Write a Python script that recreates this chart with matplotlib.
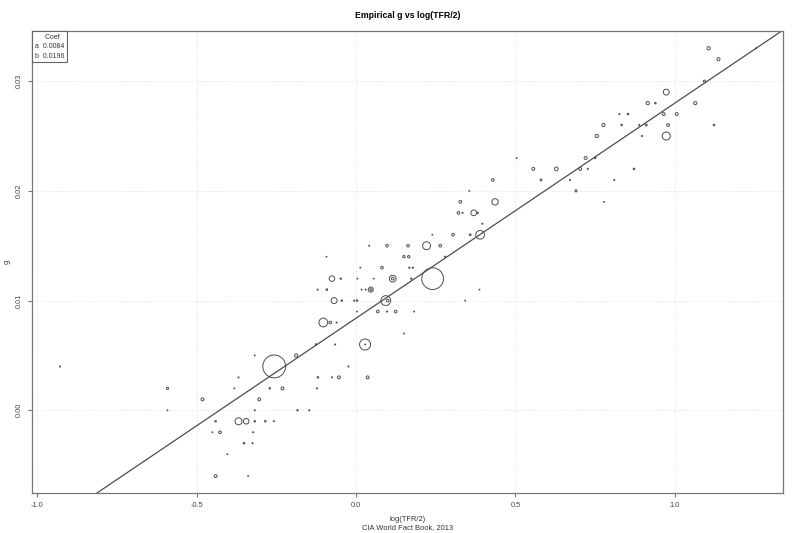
import numpy as np
import matplotlib
matplotlib.use("Agg")
import matplotlib.pyplot as plt

plt.rcParams['font.family'] = ['Liberation Sans', 'DejaVu Sans']

# fitted coefficients: g = a + b * log(TFR/2)
coef_a = 0.0084
coef_b = 0.0196

# log(TFR/2), g, population (millions)
log_tfr = [1.106, 1.255, 1.137, 1.093, 0.973,
           0.915, 0.939, 1.064,
           0.826, 0.853, 0.965, 1.006,
           0.776, 0.833, 0.888, 0.910, 0.979, 1.123,
           0.755, 0.897, 0.973,
           0.504, 0.720, 0.750,
           0.556, 0.628, 0.703, 0.727, 0.872,
           0.429, 0.580, 0.671, 0.810,
           0.355, 0.690,
           0.327, 0.436, 0.778,
           0.321, 0.334, 0.369, 0.381,
           0.396,
           0.239, 0.304, 0.358, 0.389,
           0.041, 0.097, 0.163, 0.221, 0.264,
           -0.093, 0.150, 0.165, 0.279,
           0.013, 0.081, 0.167, 0.178,
           -0.076, -0.048, 0.004, 0.055, 0.115, 0.115, 0.173, 0.240,
           -0.121, -0.092, 0.017, 0.030, 0.046, 0.046, 0.387,
           -0.069, -0.045, -0.006, 0.003, 0.093, 0.099, 0.342,
           0.003, 0.068, 0.097, 0.124, 0.182,
           -0.103, -0.081, -0.061,
           0.150,
           -0.126, -0.066, 0.028, 0.028,
           -0.318, -0.188,
           -0.929, -0.257, -0.024,
           -0.369, -0.120, -0.076, -0.054, 0.036,
           -0.592, -0.382, -0.271, -0.231, -0.123,
           -0.482, -0.304,
           -0.592, -0.318, -0.184, -0.147,
           -0.441, -0.369, -0.345, -0.318, -0.285, -0.258,
           -0.451, -0.427, -0.323,
           -0.352, -0.325,
           -0.404,
           -0.441, -0.339]

g = [0.033, 0.033, 0.032, 0.030, 0.029,
     0.028, 0.028, 0.028,
     0.027, 0.027, 0.027, 0.027,
     0.026, 0.026, 0.026, 0.026, 0.026, 0.026,
     0.025, 0.025, 0.025,
     0.023, 0.023, 0.023,
     0.022, 0.022, 0.022, 0.022, 0.022,
     0.021, 0.021, 0.021, 0.021,
     0.020, 0.020,
     0.019, 0.019, 0.019,
     0.018, 0.018, 0.018, 0.018,
     0.017,
     0.016, 0.016, 0.016, 0.016,
     0.015, 0.015, 0.015, 0.015, 0.015,
     0.014, 0.014, 0.014, 0.014,
     0.013, 0.013, 0.013, 0.013,
     0.012, 0.012, 0.012, 0.012, 0.012, 0.012, 0.012, 0.012,
     0.011, 0.011, 0.011, 0.011, 0.011, 0.011, 0.011,
     0.010, 0.010, 0.010, 0.010, 0.010, 0.010, 0.010,
     0.009, 0.009, 0.009, 0.009, 0.009,
     0.008, 0.008, 0.008,
     0.007,
     0.006, 0.006, 0.006, 0.006,
     0.005, 0.005,
     0.004, 0.004, 0.004,
     0.003, 0.003, 0.003, 0.003, 0.003,
     0.002, 0.002, 0.002, 0.002, 0.002,
     0.001, 0.001,
     0.000, 0.000, 0.000, 0.000,
     -0.001, -0.001, -0.001, -0.001, -0.001, -0.001,
     -0.002, -0.002, -0.002,
     -0.003, -0.003,
     -0.004,
     -0.006, -0.006]

pop = [28, 3, 25, 12, 90,
       28, 6, 25,
       3, 7, 22, 22,
       25, 6, 3, 10, 20, 7,
       25, 3, 170,
       2, 22, 5,
       22, 35, 22, 3, 7,
       18, 10, 3, 3,
       2, 12,
       20, 105, 2,
       18, 3, 85, 6,
       3,
       2, 18, 8, 195,
       2, 18, 18, 163, 18,
       2, 14, 14, 3,
       2, 18, 4, 4,
       79, 5, 2, 2, 118, 18, 5, 1220,
       3, 8, 2, 3, 65, 10, 2,
       92, 6, 3, 6, 250, 18, 2,
       2, 18, 3, 18, 2,
       200, 18, 3,
       2,
       6, 3, 316, 2,
       2, 28,
       3, 1350, 3,
       3, 7, 3, 22, 22,
       14, 2, 6, 22, 3,
       22, 22,
       2, 3, 5, 3,
       7, 127, 81, 6, 6, 3,
       2, 18, 3,
       7, 3,
       2,
       22, 2]

x_ticks = [-1.0, -0.5, 0.0, 0.5, 1.0]
y_ticks = [0.00, 0.01, 0.02, 0.03]

fig = plt.figure(figsize=(8, 5.33), dpi=100)
ax = fig.add_axes([0.04, 0.075, 0.939, 0.867])

gray = '#4d4d4d'
ax.scatter(log_tfr, g, s=np.array(pop) * 0.2, facecolors='none',
           edgecolors=gray, linewidths=0.7, zorder=3)
ax.axline((0, coef_a), slope=coef_b, color=gray, lw=0.9, zorder=2)

ax.set_xlim(-1.017, 1.340)
ax.set_ylim(-0.00754, 0.03458)
ax.set_xticks(x_ticks)
ax.set_xticklabels(['-1.0', '-0.5', '0.0', '0.5', '1.0'])
ax.set_yticks(y_ticks)
ax.set_yticklabels(['0.00', '0.01', '0.02', '0.03'], rotation=90, va='center')
ax.grid(True, color='#e0e0e0', linestyle=':', linewidth=0.7)
ax.set_axisbelow(True)

for sp in ax.spines.values():
    sp.set_color('#777777')
    sp.set_linewidth(0.9)
ax.tick_params(colors='#777777', labelcolor='#444444', labelsize=5.3,
               length=3, width=0.8, pad=3.5)

ax.set_title('Empirical g vs log(TFR/2)', fontsize=6.3, fontweight='bold', pad=9)
ax.set_xlabel('log(TFR/2)\nCIA World Fact Book, 2013', fontsize=5.4,
              color='#333333', labelpad=5, linespacing=1.25)
ax.set_ylabel('g', fontsize=5.4, color='#333333', labelpad=4)

ax.text(0.004, 0.993, '     Coef\na  %.4f\nb  %.4f' % (coef_a, coef_b),
        transform=ax.transAxes, ha='left', va='top', fontsize=5.0,
        color='#333333', linespacing=1.45,
        bbox=dict(boxstyle='square,pad=0.4', fc='white', ec='#666666', lw=0.8),
        zorder=5)

fig.savefig('out.png', dpi=100)
